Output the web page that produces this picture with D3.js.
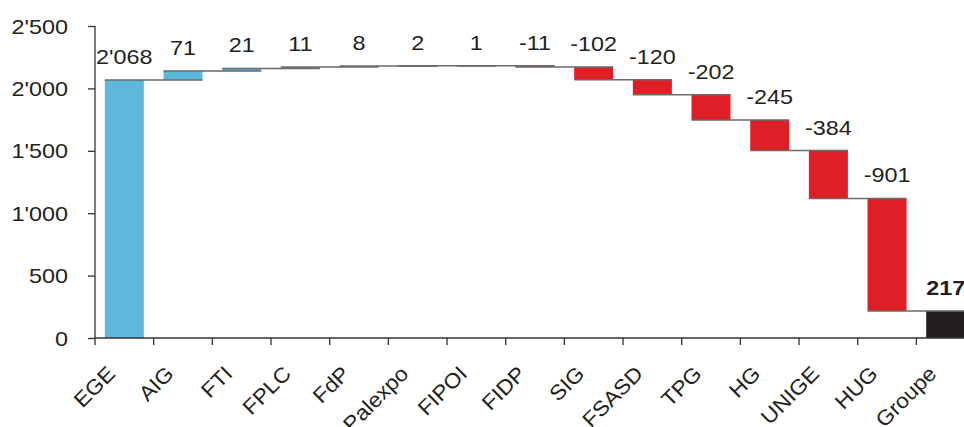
<!DOCTYPE html>
<html>
<head>
<meta charset="utf-8">
<script src="https://cdn.jsdelivr.net/npm/d3@7"></script>
<style>
  body { margin: 0; background: #fff; }
  svg { display: block; font-family: "Liberation Sans", Arial, sans-serif; }
</style>
</head>
<body>
<svg id="chart"></svg>
<script>
// waterfall data
const categories = ["EGE", "AIG", "FTI", "FPLC", "FdP", "Palexpo", "FIPOI", "FIDP", "SIG", "FSASD", "TPG", "HG", "UNIGE", "HUG", "Groupe"];
const values = [2068, 71, 21, 11, 8, 2, 1, -11, -102, -120, -202, -245, -384, -901, 217];
const kinds = ["start", "delta", "delta", "delta", "delta", "delta", "delta", "delta", "delta", "delta", "delta", "delta", "delta", "delta", "total"];
const yTicks = [0, 500, 1000, 1500, 2000, 2500];

const width = 964, height = 427;
const textColor = "#231f20";
const sx = 1.17; // the reference text is a bit wider than it is tall

const svg = d3.select("#chart").attr("width", width).attr("height", height);

const fmt = d3.formatLocale({decimal: ".", thousands: "'", grouping: [3], currency: ["", ""], minus: "-"}).format(",d");

// running totals
let run = 0;
const rows = categories.map((c, i) => {
  let start, end;
  if (kinds[i] === "delta") { start = run; end = run + values[i]; }
  else { start = 0; end = values[i]; }
  run = end;
  return {cat: c, value: values[i], kind: kinds[i], start, end};
});

const x = d3.scaleBand().domain(categories).range([95, 95 + 15 * 58.67]).paddingInner(0);
const y = d3.scaleLinear().domain([0, 2500]).range([338, 26]);
const barW = x.bandwidth() * 0.665;
const barX = d => x(d.cat) + (x.bandwidth() - barW) / 2;

const color = d => d.kind === "start" ? "#5db8dc" : d.kind === "total" ? "#231f20" : (d.value >= 0 ? "#5db8dc" : "#de1f26");

// bars
svg.append("g").selectAll("rect")
  .data(rows)
  .join("rect")
  .attr("x", barX)
  .attr("width", barW)
  .attr("y", d => y(Math.max(d.start, d.end)))
  .attr("height", d => Math.max(1, Math.abs(y(d.start) - y(d.end))))
  .attr("fill", color);

// connectors: from a bar's left edge to the next bar's right edge
svg.append("g").selectAll("line")
  .data(rows.slice(0, -1))
  .join("line")
  .attr("x1", d => barX(d))
  .attr("x2", (d, i) => barX(rows[i + 1]) + barW)
  .attr("y1", d => y(d.end))
  .attr("y2", d => y(d.end))
  .attr("stroke", "#6a6a6a")
  .attr("stroke-width", 1.5);

// y axis
const yAxis = svg.append("g")
  .attr("transform", "translate(95,0)")
  .call(d3.axisLeft(y).tickValues(yTicks).tickFormat(fmt).tickSize(7).tickPadding(0));
yAxis.select(".domain").attr("stroke", "#333").attr("stroke-width", 1.3).attr("d", `M0,${y(2500)}V${y(0)}`);
yAxis.selectAll(".tick line").attr("stroke", "#333").attr("stroke-width", 1.3);
yAxis.selectAll(".tick text")
  .attr("x", null)
  .attr("dy", null)
  .attr("transform", `translate(-27,7) scale(${sx},1)`)
  .attr("fill", textColor)
  .style("font-size", "20px")
  .style("font-family", "Liberation Sans, Arial, sans-serif");

// x axis line and ticks at band boundaries
const xg = svg.append("g");
xg.append("line")
  .attr("x1", 95).attr("x2", width).attr("y1", y(0)).attr("y2", y(0))
  .attr("stroke", "#333").attr("stroke-width", 1.3);
xg.selectAll("line.tk")
  .data(categories)
  .join("line")
  .attr("class", "tk")
  .attr("x1", d => x(d)).attr("x2", d => x(d))
  .attr("y1", y(0)).attr("y2", y(0) + 7)
  .attr("stroke", "#333").attr("stroke-width", 1.3);
xg.selectAll("text")
  .data(categories)
  .join("text")
  .attr("transform", d => `translate(${x(d) + x.bandwidth() / 2 - 8},375) rotate(-45) scale(1.08,1)`)
  .attr("text-anchor", "end")
  .attr("fill", textColor)
  .style("font-size", "21px")
  .text(d => d);

// value labels
svg.append("g").selectAll("text")
  .data(rows)
  .join("text")
  .attr("transform", d => `translate(${barX(d) + barW / 2},${y(Math.max(d.start, d.end)) - 16}) scale(${sx},1)`)
  .attr("text-anchor", "middle")
  .attr("fill", textColor)
  .style("font-size", "20px")
  .style("font-weight", d => d.kind === "total" ? "bold" : "normal")
  .text(d => fmt(d.value));
</script>
</body>
</html>
